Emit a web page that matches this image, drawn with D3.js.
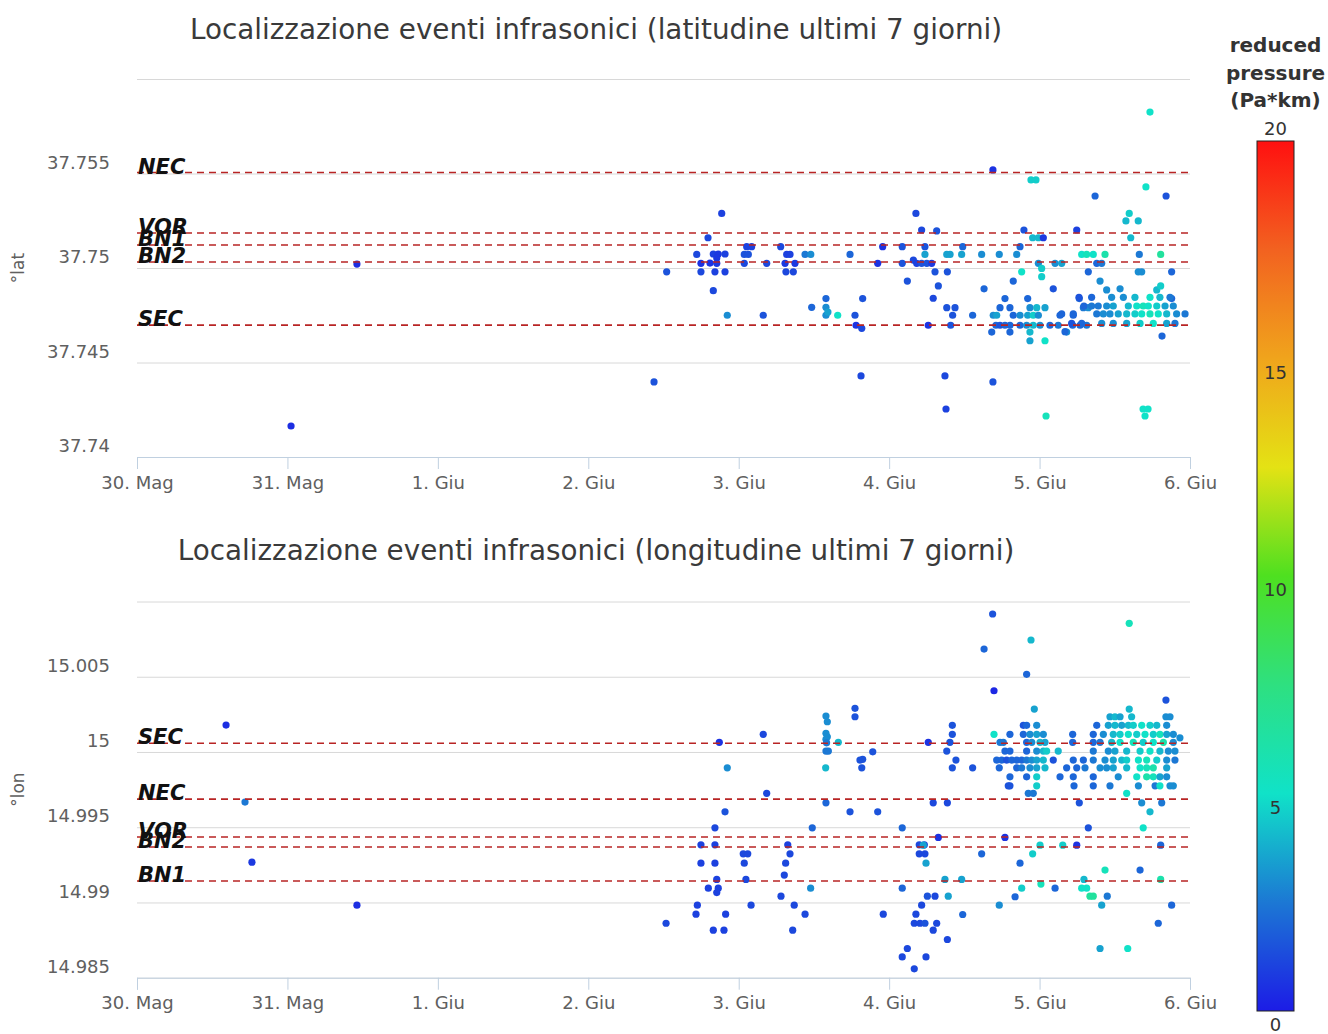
<!DOCTYPE html>
<html lang="it">
<head>
<meta charset="UTF-8">
<title>Localizzazione eventi infrasonici</title>
<script src="https://cdn.jsdelivr.net/npm/d3@7"></script>
<style>
  body { margin: 0; background: #fff; }
  svg { display: block; font-family: "DejaVu Sans", Verdana, sans-serif; }
  .title { font-size: 27.8px; fill: #3a3a3a; }
  .tick text { font-family: "DejaVu Sans", Verdana, sans-serif; font-size: 18px; fill: #606060; }
  .axis-x path, .axis-x line { stroke: #c0d0e0; }
  .grid line { stroke: #d8d8d8; }
  .grid path { display: none; }
  .ytitle { font-size: 17px; fill: #606060; }
  .station-line { stroke: #b82424; stroke-width: 1.6; stroke-dasharray: 7,5; }
  .station { font-size: 21px; font-weight: bold; font-style: italic; fill: #111; }
  .cb-title { font-size: 20px; font-weight: bold; fill: #333; }
  .cb-label { font-size: 18px; fill: #333; }
</style>
</head>
<body>
<svg width="1328" height="1034"></svg>
<script>
// --- data ---------------------------------------------------------------
const titles = [
  "Localizzazione eventi infrasonici (latitudine ultimi 7 giorni)",
  "Localizzazione eventi infrasonici (longitudine ultimi 7 giorni)"
];
const yTitles = ["°lat", "°lon"];
const dayLabels = ["30. Mag", "31. Mag", "1. Giu", "2. Giu", "3. Giu", "4. Giu", "5. Giu", "6. Giu"];
const dayNumbers = [30, 31, 32, 33, 34, 35, 36, 37]; // days counted from 1 May
const latTicks = [37.74, 37.745, 37.75, 37.755, 37.76];
const lonTicks = [14.985, 14.99, 14.995, 15, 15.005, 15.01];

const latStations = [
  { name: "NEC", v: 37.75505 },
  { name: "VOR", v: 37.75185 },
  { name: "BN1", v: 37.75122 },
  { name: "BN2", v: 37.75032 },
  { name: "SEC", v: 37.74698 }
];
const lonStations = [
  { name: "SEC", v: 15.00058 },
  { name: "NEC", v: 14.99687 },
  { name: "VOR", v: 14.99435 },
  { name: "BN2", v: 14.99369 },
  { name: "BN1", v: 14.99143 }
];

const colorStops = [0, 2.5, 5, 7.5, 10, 12.5, 15, 17.5, 20];
const colorHex = ["#1c1ce6", "#1c78d4", "#10e2c8", "#2ee080", "#4ee020", "#e4e214", "#f0a41c", "#f26220", "#ff1010"];
const colorTicks = [0, 5, 10, 15, 20];
const colorTitle = ["reduced", "pressure", "(Pa*km)"];

// [day (from 1 May), latitude, reduced pressure]
const latEvents = [
  [31.462, 37.75021, 0.5], [31.024, 37.74164, 0.5], [33.437, 37.74397, 1.5], [34.813, 37.74429, 1.2],
  [35.371, 37.74429, 1.2], [35.378, 37.74254, 1.0], [35.690, 37.74397, 1.5], [36.043, 37.74217, 5.5],
  [36.688, 37.74254, 5.0], [36.721, 37.74254, 5.0], [36.701, 37.74217, 5.0], [36.734, 37.75825, 5.0],
  [35.690, 37.75519, 0.6], [35.943, 37.75466, 4.5], [35.976, 37.75466, 4.5], [36.369, 37.75381, 2.0],
  [36.841, 37.75381, 1.5], [36.707, 37.75429, 5.0], [36.814, 37.74640, 2.0],
  [33.887, 37.75289, 1.0], [33.521, 37.74980, 1.5], [33.796, 37.75160, 1.2], [33.721, 37.75072, 1.2],
  [33.749, 37.75025, 0.6], [33.749, 37.74980, 1.2], [33.831, 37.75074, 1.0], [33.864, 37.75074, 0.8],
  [33.909, 37.75074, 1.0], [33.854, 37.75053, 0.8], [33.854, 37.75025, 0.8], [33.809, 37.75026, 0.6],
  [33.842, 37.74980, 1.0], [33.909, 37.74980, 1.0], [33.831, 37.74880, 1.2], [33.924, 37.74750, 3.0],
  [34.037, 37.75072, 1.5], [34.064, 37.75072, 1.5], [34.053, 37.75113, 1.0], [34.086, 37.75113, 1.0],
  [34.037, 37.75025, 1.2], [34.186, 37.75025, 1.2], [34.163, 37.74750, 1.5], [34.279, 37.75113, 1.2],
  [34.319, 37.75072, 1.0], [34.341, 37.75072, 1.0], [34.308, 37.75025, 0.8], [34.374, 37.75025, 0.8],
  [34.314, 37.74980, 1.2], [34.363, 37.74980, 1.2], [34.441, 37.75072, 2.5], [34.479, 37.75072, 3.0],
  [34.485, 37.74792, 2.0], [34.580, 37.74838, 2.0], [34.580, 37.74792, 3.0], [34.580, 37.74750, 3.0],
  [34.593, 37.74767, 3.5], [34.658, 37.74750, 5.0], [34.740, 37.75072, 2.0], [34.773, 37.74750, 1.5],
  [34.824, 37.74838, 1.5], [34.780, 37.74697, 0.6], [34.818, 37.74681, 1.2], [34.924, 37.75025, 0.6],
  [34.957, 37.75113, 0.6], [35.087, 37.75113, 1.5], [35.087, 37.75025, 1.5], [35.121, 37.74931, 1.5],
  [35.178, 37.75289, 1.2], [35.216, 37.75201, 1.2], [35.161, 37.75042, 1.2], [35.183, 37.75025, 1.0],
  [35.216, 37.75025, 1.5], [35.250, 37.75025, 1.5], [35.238, 37.75072, 3.5], [35.238, 37.75113, 1.5],
  [35.260, 37.74697, 0.6],
  [35.316, 37.75196, 1.5], [35.283, 37.75025, 0.8], [35.305, 37.74980, 1.5], [35.387, 37.74980, 1.5],
  [35.327, 37.74905, 1.5], [35.293, 37.74840, 1.2], [35.383, 37.74790, 1.5], [35.438, 37.74790, 1.5],
  [35.422, 37.74750, 1.5], [35.409, 37.74697, 1.5], [35.383, 37.75072, 3.5], [35.405, 37.75072, 3.5],
  [35.489, 37.75113, 2.0], [35.482, 37.75072, 3.5], [35.615, 37.75072, 3.0], [35.631, 37.74890, 2.0],
  [35.555, 37.74750, 2.0], [35.732, 37.75072, 3.0], [35.770, 37.74838, 2.0], [35.692, 37.74750, 3.0],
  [35.715, 37.74750, 3.5], [35.737, 37.74790, 2.0], [35.803, 37.74790, 2.0], [35.710, 37.74697, 2.0],
  [35.737, 37.74697, 1.5], [35.770, 37.74697, 2.0], [35.803, 37.74697, 2.0], [35.682, 37.74661, 2.0],
  [35.803, 37.74661, 2.0], [35.825, 37.74931, 2.0], [35.848, 37.75072, 3.0], [35.870, 37.75113, 2.0],
  [35.896, 37.75201, 1.5], [35.881, 37.74980, 5.0], [35.954, 37.75160, 4.0], [35.992, 37.75160, 4.0],
  [36.025, 37.75160, 0.8], [35.921, 37.74838, 2.0], [35.936, 37.74790, 3.0], [35.981, 37.74790, 4.0],
  [36.036, 37.74790, 3.5], [35.992, 37.75025, 3.0], [36.014, 37.74998, 4.5], [36.014, 37.74954, 4.5],
  [36.091, 37.74890, 1.5], [36.103, 37.75025, 3.0], [36.147, 37.75025, 3.5], [36.136, 37.74750, 2.0],
  [35.936, 37.74661, 4.0], [35.936, 37.74615, 3.5], [36.036, 37.74615, 5.0], [36.180, 37.74661, 3.0],
  [36.224, 37.74750, 2.0], [36.220, 37.74697, 2.0], [36.247, 37.75201, 1.0], [36.264, 37.74838, 2.0],
  [36.291, 37.74790, 2.5], [36.324, 37.74790, 3.0], [36.280, 37.75072, 5.0], [36.313, 37.75072, 5.5],
  [36.357, 37.75072, 5.0], [36.435, 37.75072, 6.0], [36.324, 37.74980, 2.0], [36.380, 37.75025, 2.0],
  [36.413, 37.75025, 2.5], [36.402, 37.74931, 3.0], [36.446, 37.74884, 3.0], [36.535, 37.74890, 3.0],
  [36.596, 37.75289, 4.5], [36.574, 37.75249, 4.0], [36.656, 37.75249, 4.0], [36.606, 37.75160, 4.0],
  [36.663, 37.75072, 2.5], [36.805, 37.75072, 6.5], [36.656, 37.74980, 3.0], [36.679, 37.74980, 3.0],
  [36.878, 37.74980, 2.0], [36.779, 37.74884, 4.0], [36.805, 37.74905, 4.5], [36.878, 37.74838, 2.0],
  [35.870, 37.74697, 2.0], [35.914, 37.74697, 3.0], [35.958, 37.74697, 4.0], [36.003, 37.74697, 3.0],
  [36.069, 37.74697, 2.0], [36.124, 37.74697, 2.5], [36.269, 37.74697, 2.0], [36.313, 37.74697, 2.5],
  [35.825, 37.74750, 2.0], [35.870, 37.74750, 3.0], [35.921, 37.74750, 3.5], [35.958, 37.74750, 4.5],
  [35.992, 37.74750, 3.0],
  [36.262, 37.74845, 1.5], [36.346, 37.74845, 2.0], [36.479, 37.74845, 3.0], [36.557, 37.74845, 3.0],
  [36.634, 37.74845, 4.0], [36.734, 37.74845, 5.0], [36.800, 37.74845, 4.0], [36.867, 37.74845, 2.5],
  [36.295, 37.74799, 2.0], [36.346, 37.74799, 2.5], [36.390, 37.74799, 2.5], [36.446, 37.74799, 3.0],
  [36.490, 37.74799, 3.5], [36.590, 37.74799, 4.0], [36.646, 37.74799, 5.0], [36.689, 37.74799, 5.5],
  [36.723, 37.74799, 5.0], [36.779, 37.74799, 4.5], [36.834, 37.74799, 3.5], [36.889, 37.74799, 3.0],
  [36.147, 37.74757, 2.0], [36.224, 37.74757, 2.0], [36.380, 37.74757, 2.5], [36.424, 37.74757, 3.0],
  [36.468, 37.74757, 3.0], [36.523, 37.74757, 3.5], [36.579, 37.74757, 4.0], [36.634, 37.74757, 4.5],
  [36.679, 37.74757, 5.0], [36.734, 37.74757, 5.5], [36.789, 37.74757, 5.0], [36.845, 37.74757, 4.0],
  [36.911, 37.74757, 3.0], [36.967, 37.74757, 2.5],
  [36.213, 37.74707, 1.5], [36.280, 37.74707, 2.0], [36.413, 37.74707, 3.0], [36.490, 37.74707, 3.0],
  [36.579, 37.74707, 3.5], [36.668, 37.74707, 4.5], [36.756, 37.74707, 5.0], [36.845, 37.74707, 3.5],
  [36.900, 37.74707, 2.5], [36.169, 37.74663, 2.0]
];

// [day (from 1 May), longitude, reduced pressure]
const lonEvents = [
  [30.592, 15.00179, 0.5], [30.718, 14.99667, 2.5], [30.764, 14.99268, 0.8], [31.462, 14.98982, 0.5],
  [33.517, 14.98862, 1.2],
  [33.871, 15.00064, 0.6], [33.924, 14.99895, 3.0], [34.163, 15.00117, 1.2], [34.186, 14.99725, 1.2],
  [34.580, 15.00239, 3.0], [34.589, 15.00201, 3.0], [34.580, 15.00124, 3.0], [34.589, 15.00101, 3.0],
  [34.580, 15.00084, 3.0], [34.584, 15.00061, 2.5], [34.662, 15.00064, 4.0], [34.580, 15.00006, 2.5],
  [34.596, 15.00006, 2.5], [34.578, 14.99895, 4.0], [34.580, 14.99662, 2.0], [34.773, 15.00290, 1.5],
  [34.773, 15.00234, 1.5], [34.891, 15.00001, 1.5], [34.806, 14.99946, 1.5], [34.824, 14.99951, 1.5],
  [34.818, 14.99895, 1.5], [34.740, 14.99602, 1.5], [34.924, 14.99602, 1.5], [34.489, 14.99496, 2.0],
  [33.909, 14.99602, 1.5], [33.842, 14.99496, 1.2], [33.749, 14.99383, 1.0], [33.842, 14.99383, 1.0],
  [33.749, 14.99261, 1.0], [33.842, 14.99261, 1.0], [33.854, 14.99153, 1.0], [33.798, 14.99095, 1.0],
  [33.864, 14.99095, 1.0], [33.854, 14.99066, 1.0], [33.725, 14.98982, 1.0], [33.716, 14.98922, 1.0],
  [33.913, 14.98922, 1.0], [33.831, 14.98816, 1.0], [33.902, 14.98816, 1.0], [34.030, 14.99323, 1.2],
  [34.060, 14.99323, 1.2], [34.037, 14.99261, 1.2], [34.048, 14.99153, 1.2], [34.082, 14.98982, 1.2],
  [34.326, 14.99383, 1.0], [34.341, 14.99323, 1.2], [34.312, 14.99261, 1.2], [34.303, 14.99182, 1.2],
  [34.281, 14.99042, 1.2], [34.369, 14.98982, 1.2], [34.441, 14.98922, 1.2], [34.359, 14.98816, 1.2],
  [34.478, 14.99095, 3.0], [34.961, 14.98922, 1.2], [35.087, 14.99496, 2.0], [35.087, 14.99095, 2.0],
  [35.200, 14.99383, 1.2], [35.234, 14.99383, 1.2], [35.200, 14.99323, 1.2], [35.238, 14.99323, 1.2],
  [35.245, 14.99261, 3.5], [35.216, 14.98982, 1.2], [35.254, 14.99042, 1.5], [35.178, 14.98922, 1.2],
  [35.167, 14.98862, 1.2], [35.205, 14.98862, 1.2], [35.238, 14.98862, 1.5], [35.121, 14.98694, 1.2],
  [35.087, 14.98638, 1.2], [35.245, 14.98638, 1.2], [35.167, 14.98559, 1.2], [35.260, 15.00064, 0.6],
  [35.688, 15.00917, 1.5], [35.631, 15.00684, 2.0], [35.943, 15.00744, 4.0], [36.596, 15.00855, 5.5],
  [35.914, 15.00516, 2.0], [35.697, 15.00407, 0.3], [36.840, 15.00345, 1.5], [35.965, 15.00285, 3.5],
  [36.596, 15.00285, 4.0], [35.420, 15.00177, 1.5], [35.420, 15.00117, 1.5], [35.404, 15.00064, 1.5],
  [35.383, 15.00006, 1.5], [35.444, 14.99946, 1.5], [35.420, 14.99895, 1.5], [35.555, 14.99895, 1.5],
  [35.697, 15.00117, 5.0], [35.737, 15.00064, 2.5], [35.759, 15.00064, 2.5], [35.803, 15.00117, 2.0],
  [35.770, 15.00006, 2.0], [35.803, 15.00006, 2.0], [35.715, 14.99946, 2.0], [35.748, 14.99946, 2.0],
  [35.781, 14.99946, 1.5], [35.815, 14.99946, 2.0], [35.732, 14.99895, 2.0], [35.803, 14.99835, 2.0],
  [35.792, 14.99775, 1.5], [35.803, 14.99775, 1.5],
  [35.892, 15.00177, 1.5], [35.914, 15.00177, 2.0], [35.981, 15.00177, 3.0],
  [35.892, 15.00117, 2.0], [35.936, 15.00117, 3.0], [35.981, 15.00117, 3.5], [36.025, 15.00117, 3.0],
  [35.914, 15.00064, 2.0], [35.948, 15.00064, 3.0], [36.003, 15.00064, 4.0], [36.036, 15.00064, 3.5],
  [35.914, 15.00006, 2.0], [35.981, 15.00006, 3.0], [36.025, 15.00006, 4.0], [36.047, 15.00006, 4.5],
  [35.848, 14.99946, 2.0], [35.881, 14.99946, 2.0], [35.914, 14.99946, 2.5], [35.948, 14.99946, 3.0],
  [35.981, 14.99946, 3.5], [36.025, 14.99946, 4.0], [36.091, 14.99946, 1.5],
  [35.848, 14.99895, 2.0], [35.881, 14.99895, 2.5], [35.936, 14.99895, 3.0], [35.981, 14.99895, 3.5],
  [36.036, 14.99895, 4.0], [35.914, 14.99835, 2.0], [35.981, 14.99835, 4.5], [35.981, 14.99775, 4.5],
  [35.925, 14.99725, 2.5], [35.958, 14.99725, 2.5],
  [36.124, 15.00006, 4.0], [36.136, 14.99835, 2.0], [36.220, 15.00117, 2.0], [36.220, 15.00064, 2.0],
  [36.229, 14.99775, 2.0], [36.264, 14.99662, 1.5], [36.324, 14.99496, 1.5],
  [36.468, 15.00234, 3.5], [36.501, 15.00234, 4.0], [36.535, 15.00234, 3.5], [36.612, 15.00234, 4.0],
  [36.840, 15.00234, 3.0], [36.867, 15.00234, 3.0],
  [36.380, 15.00177, 2.0], [36.457, 15.00177, 3.5], [36.501, 15.00177, 4.0], [36.546, 15.00177, 3.5],
  [36.590, 15.00177, 4.0], [36.623, 15.00177, 4.5], [36.679, 15.00177, 5.0], [36.734, 15.00177, 4.5],
  [36.779, 15.00177, 4.0], [36.845, 15.00177, 3.0],
  [36.357, 15.00117, 2.0], [36.424, 15.00117, 3.0], [36.490, 15.00117, 4.0], [36.535, 15.00117, 4.5],
  [36.590, 15.00117, 5.0], [36.646, 15.00117, 4.5], [36.701, 15.00117, 5.0], [36.756, 15.00117, 4.5],
  [36.800, 15.00117, 5.5], [36.845, 15.00117, 3.5], [36.889, 15.00117, 3.0],
  [36.357, 15.00064, 2.0], [36.402, 15.00064, 2.5], [36.479, 15.00064, 4.0], [36.535, 15.00064, 5.0],
  [36.623, 15.00064, 5.5], [36.689, 15.00064, 4.5], [36.756, 15.00064, 5.0], [36.823, 15.00064, 6.0],
  [36.889, 15.00064, 3.0],
  [36.357, 15.00006, 2.5], [36.457, 15.00006, 3.0], [36.501, 15.00006, 3.5], [36.579, 15.00006, 4.0],
  [36.668, 15.00006, 4.5], [36.734, 15.00006, 5.0], [36.800, 15.00006, 4.0], [36.856, 15.00006, 3.0],
  [36.900, 15.00006, 3.0],
  [36.224, 14.99946, 2.0], [36.291, 14.99946, 2.0], [36.357, 14.99946, 2.5], [36.435, 14.99946, 3.0],
  [36.490, 14.99946, 3.5], [36.546, 14.99946, 4.0], [36.579, 14.99946, 4.5], [36.657, 14.99946, 5.0],
  [36.712, 14.99946, 5.5], [36.779, 14.99946, 4.5], [36.845, 14.99946, 3.0], [36.900, 14.99946, 2.5],
  [36.180, 14.99895, 2.0], [36.247, 14.99895, 2.0], [36.302, 14.99895, 2.5], [36.402, 14.99895, 3.0],
  [36.446, 14.99895, 3.0], [36.490, 14.99895, 3.5], [36.579, 14.99895, 4.0], [36.668, 14.99895, 5.0],
  [36.712, 14.99895, 5.5], [36.756, 14.99895, 6.0], [36.845, 14.99895, 3.5],
  [36.224, 14.99835, 2.0], [36.357, 14.99835, 2.0], [36.523, 14.99835, 3.0], [36.646, 14.99835, 5.0],
  [36.712, 14.99835, 6.0], [36.756, 14.99835, 5.5], [36.800, 14.99835, 3.5], [36.845, 14.99835, 3.0],
  [36.357, 14.99775, 2.0], [36.468, 14.99775, 2.5], [36.657, 14.99775, 3.0], [36.768, 14.99775, 2.5],
  [36.800, 14.99775, 5.0], [36.867, 14.99775, 3.0], [36.889, 14.99775, 3.0],
  [36.579, 14.99725, 5.0], [36.679, 14.99662, 3.0], [36.734, 14.99602, 4.0], [36.689, 14.99496, 5.0],
  [36.812, 14.99662, 2.5], [36.933, 15.00094, 3.0],
  [35.293, 14.99662, 1.2], [35.387, 14.99662, 1.2], [35.327, 14.99432, 0.6], [35.227, 14.99381, 3.5],
  [35.770, 14.99432, 0.6], [35.615, 14.99323, 2.0], [36.003, 14.99381, 4.5], [35.954, 14.99323, 4.5],
  [35.870, 14.99261, 2.0], [36.154, 14.99381, 4.5], [36.247, 14.99381, 0.6], [35.371, 14.99153, 3.5],
  [35.482, 14.99153, 3.5], [35.393, 14.99042, 3.5], [35.305, 14.99042, 1.2], [35.316, 14.98862, 1.2],
  [35.293, 14.98816, 1.2], [35.387, 14.98754, 1.2], [35.489, 14.98920, 2.0], [35.732, 14.98982, 3.0],
  [35.837, 14.99038, 2.0], [35.881, 14.99095, 4.5], [36.009, 14.99122, 5.5], [36.103, 14.99095, 2.0],
  [36.295, 14.99153, 4.0], [36.280, 14.99095, 5.0], [36.313, 14.99095, 5.0], [36.335, 14.99042, 6.5],
  [36.357, 14.99042, 6.5], [36.413, 14.98982, 3.5], [36.450, 14.99042, 2.5], [36.435, 14.99215, 5.5],
  [36.668, 14.99215, 2.0], [36.805, 14.99153, 6.0], [36.805, 14.99381, 2.0], [36.878, 14.98982, 2.0],
  [36.789, 14.98862, 2.0], [36.402, 14.98694, 3.5], [36.586, 14.98694, 5.0]
];

// --- drawing ------------------------------------------------------------
const svg = d3.select("svg");
const year = 2019;
const toDate = t => new Date(Date.UTC(year, 4, 1) + (t - 1) * 864e5);
const dayDates = dayNumbers.map(toDate);

const x = d3.scaleUtc()
  .domain([dayDates[0], dayDates[dayDates.length - 1]])
  .range([137, 1190]);

const color = d3.scaleLinear().domain(colorStops).range(colorHex).clamp(true);

const panels = [
  { title: titles[0], yTitle: yTitles[0], events: latEvents, stations: latStations, ticks: latTicks, top: 79, bottom: 457, titleY: 39 },
  { title: titles[1], yTitle: yTitles[1], events: lonEvents, stations: lonStations, ticks: lonTicks, top: 601.5, bottom: 977.7, titleY: 560 }
];

panels.forEach(p => {
  const y = d3.scaleLinear()
    .domain([p.ticks[0], p.ticks[p.ticks.length - 1]])
    .range([p.bottom, p.top]);

  svg.append("text")
    .attr("class", "title")
    .attr("x", 596)
    .attr("y", p.titleY)
    .attr("text-anchor", "middle")
    .text(p.title);

  // horizontal grid + y labels (top gridline is unlabeled)
  const last = p.ticks[p.ticks.length - 1];
  const gy = svg.append("g")
    .attr("class", "grid")
    .attr("transform", "translate(137,0)")
    .call(d3.axisLeft(y)
      .tickValues(p.ticks)
      .tickSize(-(1190 - 137))
      .tickPadding(27)
      .tickFormat(d => d === last ? "" : String(+d.toFixed(3))));
  gy.selectAll(".tick text").attr("dy", "-0.3em");

  svg.append("text")
    .attr("class", "ytitle")
    .attr("transform", `translate(24,${(p.top + p.bottom) / 2}) rotate(-90)`)
    .attr("text-anchor", "middle")
    .text(p.yTitle);

  // x axis
  svg.append("g")
    .attr("class", "axis-x")
    .attr("transform", `translate(0,${p.bottom})`)
    .call(d3.axisBottom(x)
      .tickValues(dayDates)
      .tickSize(12)
      .tickPadding(7)
      .tickFormat((d, i) => dayLabels[i]));

  // events
  svg.append("g")
    .selectAll("circle")
    .data(p.events)
    .join("circle")
    .attr("cx", d => x(toDate(d[0])))
    .attr("cy", d => y(d[1]))
    .attr("r", 3.6)
    .attr("fill", d => color(d[2]));

  // station reference lines (drawn over the points)
  const st = svg.append("g");
  st.selectAll("line")
    .data(p.stations)
    .join("line")
    .attr("class", "station-line")
    .attr("x1", 137)
    .attr("x2", 1190)
    .attr("y1", d => y(d.v))
    .attr("y2", d => y(d.v));
  st.selectAll("text")
    .data(p.stations)
    .join("text")
    .attr("class", "station")
    .attr("x", 138)
    .attr("y", d => y(d.v) + 1)
    .text(d => d.name);
});

// colour bar
const cb = { x: 1257, w: 37, top: 141, bottom: 1011 };
const cScale = d3.scaleLinear().domain([0, 20]).range([cb.bottom, cb.top]);

const grad = svg.append("defs").append("linearGradient")
  .attr("id", "cbar")
  .attr("x1", 0).attr("y1", 1).attr("x2", 0).attr("y2", 0);
grad.selectAll("stop")
  .data(colorStops)
  .join("stop")
  .attr("offset", d => d / 20)
  .attr("stop-color", (d, i) => colorHex[i]);

svg.append("rect")
  .attr("x", cb.x)
  .attr("y", cb.top)
  .attr("width", cb.w)
  .attr("height", cb.bottom - cb.top)
  .attr("fill", "url(#cbar)")
  .attr("stroke", "#222")
  .attr("stroke-width", 1);

svg.selectAll(".cb-title")
  .data(colorTitle)
  .join("text")
  .attr("class", "cb-title")
  .attr("x", cb.x + cb.w / 2)
  .attr("y", (d, i) => 52 + i * 27.5)
  .attr("text-anchor", "middle")
  .text(d => d);

svg.selectAll(".cb-label")
  .data(colorTicks)
  .join("text")
  .attr("class", "cb-label")
  .attr("x", cb.x + cb.w / 2)
  .attr("y", d => d === 20 ? cb.top - 6 : cScale(d) + 20)
  .attr("text-anchor", "middle")
  .text(d => d);
</script>
</body>
</html>
